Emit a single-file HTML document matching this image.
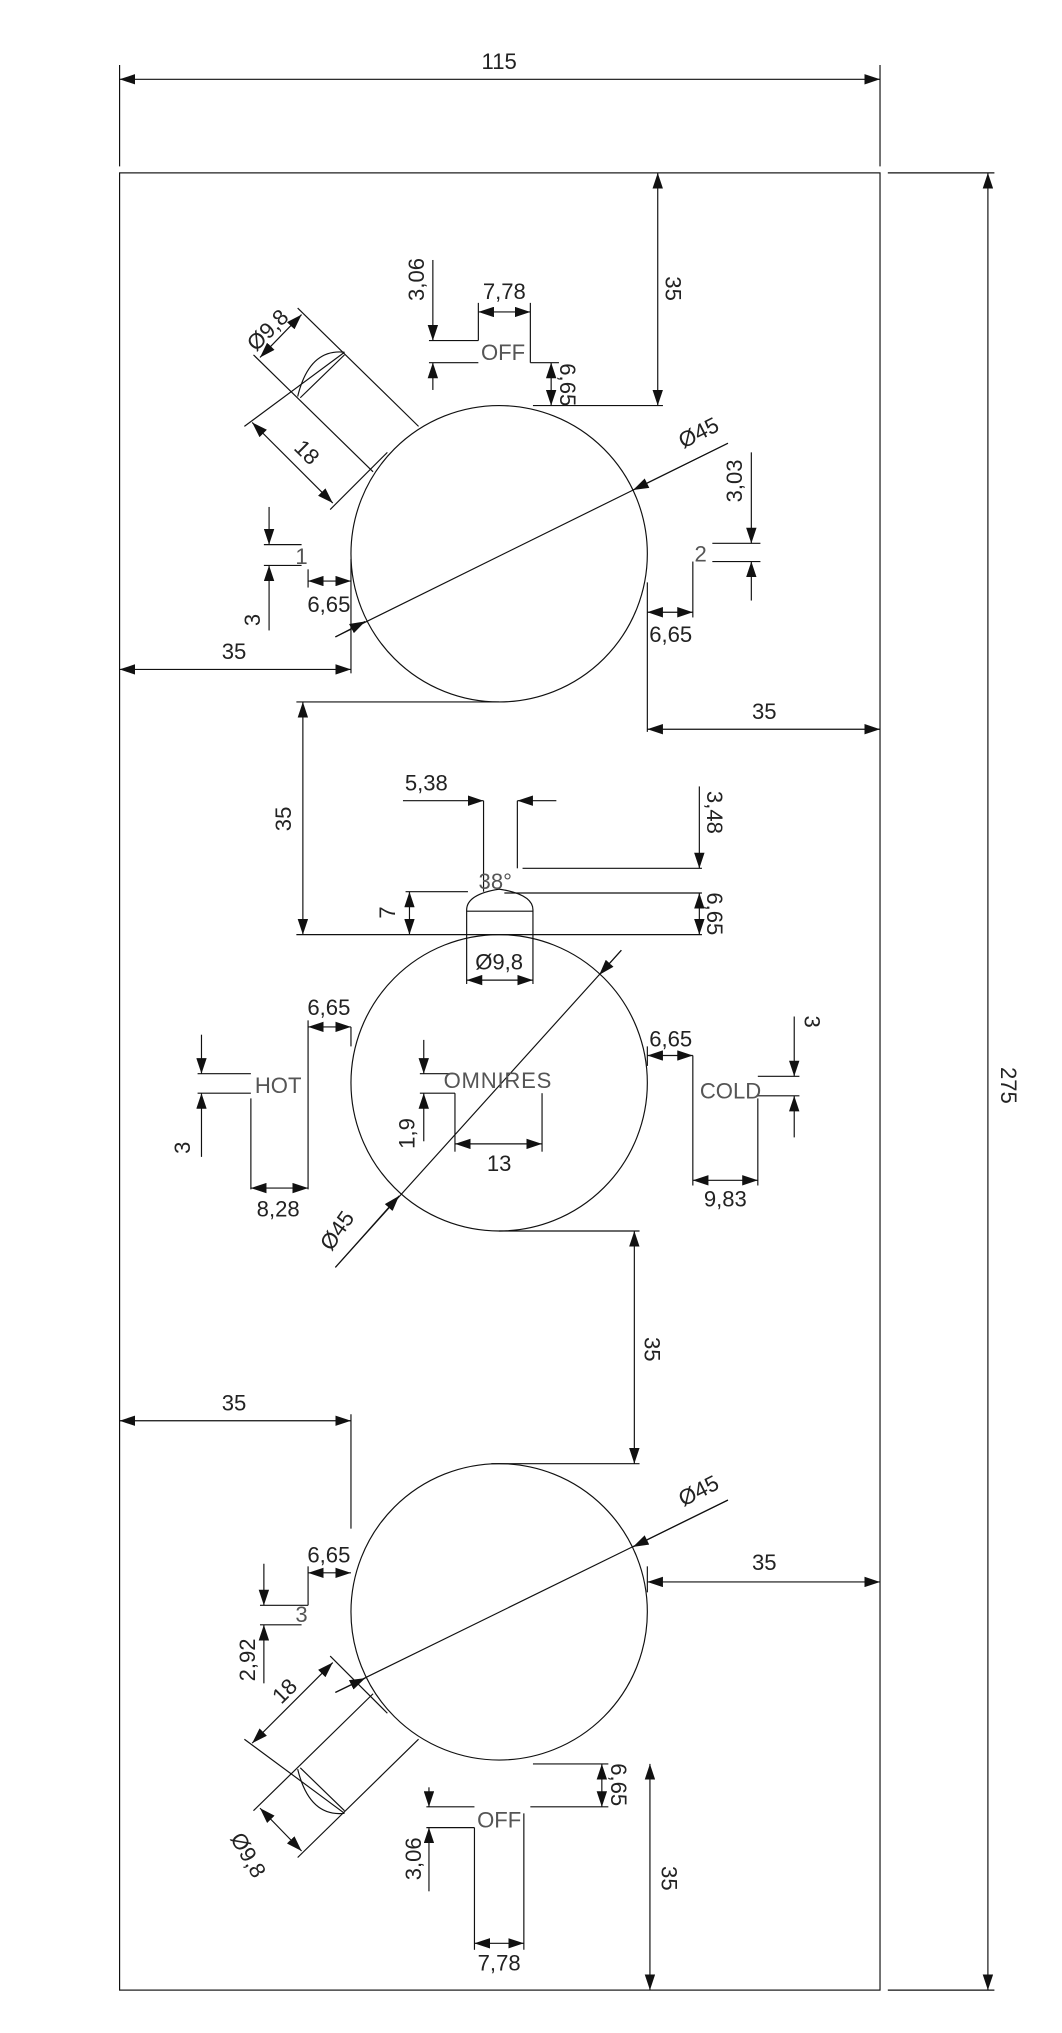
<!DOCTYPE html>
<html><head><meta charset="utf-8"><style>
html,body{margin:0;padding:0;background:#fff;}
svg{display:block}
text{font-family:"Liberation Sans",sans-serif;font-size:17px;fill:#222;}
.g{fill:#555}
.l{stroke:#111;stroke-width:0.9;fill:none}
.d{marker-start:url(#a);marker-end:url(#a)}
.e{marker-end:url(#a)}
</style></head><body>
<svg width="1062" height="2033" viewBox="0 0 817 1564" xmlns="http://www.w3.org/2000/svg">
<defs><marker id="a" viewBox="0 0 12 8" refX="12" refY="4" markerWidth="12" markerHeight="8" markerUnits="userSpaceOnUse" orient="auto-start-reverse"><path d="M0,0 L12,4 L0,8z" fill="#111"/></marker></defs>
<g class="l">
<rect x="92" y="133" width="585" height="1398"/>
<line x1="92" y1="50" x2="92" y2="128"/><line x1="677" y1="50" x2="677" y2="128"/>
<line class="d" x1="92" y1="61" x2="677" y2="61"/>
<line x1="683" y1="133" x2="765" y2="133"/><line x1="683" y1="1531" x2="765" y2="1531"/>
<line class="d" x1="760" y1="133" x2="760" y2="1531"/>
<circle cx="384" cy="426" r="114"/>
<circle cx="384" cy="833" r="114"/>
<circle cx="384" cy="1240" r="114"/>

<line class="d" x1="506" y1="133" x2="506" y2="312"/>
<line x1="410" y1="312" x2="510" y2="312"/>
<line class="e" x1="333" y1="200" x2="333" y2="262"/><line class="e" x1="333" y1="300" x2="333" y2="279"/>
<line x1="330" y1="262" x2="368" y2="262"/><line x1="330" y1="279" x2="368" y2="279"/>
<line x1="368" y1="233" x2="368" y2="262"/><line x1="408" y1="233" x2="408" y2="279"/>
<line class="d" x1="368" y1="240" x2="408" y2="240"/>
<line x1="408" y1="279" x2="430" y2="279"/>
<line class="d" x1="424" y1="279" x2="424" y2="312"/>
<line x1="258" y1="490" x2="560" y2="341"/>
<line class="e" x1="560" y1="341" x2="487" y2="377"/>
<line class="e" x1="258" y1="490" x2="281" y2="478"/>
<line x1="229" y1="237" x2="322" y2="328"/>
<line x1="195" y1="273" x2="287" y2="363"/>
<line x1="188" y1="328" x2="265" y2="271"/>
<line x1="231" y1="306" x2="265" y2="273"/>
<path d="M265,271 Q238,268 229,305"/>
<line x1="254" y1="392" x2="298" y2="348"/>
<line class="d" x1="194" y1="325" x2="256" y2="387"/>
<line class="d" x1="232" y1="242" x2="200" y2="275"/>
<line class="e" x1="207" y1="390" x2="207" y2="419"/><line class="e" x1="207" y1="485" x2="207" y2="435"/>
<line x1="203" y1="419" x2="232" y2="419"/><line x1="203" y1="435" x2="232" y2="435"/>
<line x1="237" y1="438" x2="237" y2="452"/>
<line class="d" x1="237" y1="447" x2="270" y2="447"/>
<line x1="270" y1="430" x2="270" y2="518"/>
<line class="d" x1="92" y1="515" x2="270" y2="515"/>
<line class="e" x1="578" y1="348" x2="578" y2="418"/><line class="e" x1="578" y1="462" x2="578" y2="432"/>
<line x1="548" y1="418" x2="585" y2="418"/><line x1="548" y1="432" x2="585" y2="432"/>
<line x1="533" y1="432" x2="533" y2="475"/>
<line x1="498" y1="448" x2="498" y2="563"/>
<line class="d" x1="498" y1="471" x2="533" y2="471"/>
<line class="d" x1="498" y1="561" x2="677" y2="561"/>

<line x1="228" y1="540" x2="384" y2="540"/>
<line class="d" x1="233" y1="540" x2="233" y2="719"/>
<line x1="228" y1="719" x2="540" y2="719"/>
<line class="e" x1="310" y1="616" x2="372" y2="616"/><line class="e" x1="428" y1="616" x2="398" y2="616"/>
<line x1="372" y1="616" x2="372" y2="686"/><line x1="398" y1="616" x2="398" y2="668"/>
<line x1="402" y1="668" x2="540" y2="668"/>
<line class="e" x1="538" y1="605" x2="538" y2="668"/>
<line x1="312" y1="686" x2="360" y2="686"/><line x1="388" y1="687" x2="540" y2="687"/>
<line class="d" x1="315" y1="686" x2="315" y2="719"/>
<line class="d" x1="538" y1="687" x2="538" y2="719"/>
<path d="M359,757 L359,700 Q359,688 384,684 Q410,688 410,700 L410,757"/>
<line x1="359" y1="701" x2="410" y2="701"/>
<line class="d" x1="359" y1="754" x2="410" y2="754"/>
<line x1="258" y1="975" x2="478" y2="731"/>
<line class="e" x1="478" y1="731" x2="461" y2="750"/>
<line class="e" x1="258" y1="975" x2="307" y2="920"/>
<line x1="237" y1="785" x2="237" y2="915"/><line x1="270" y1="790" x2="270" y2="805"/>
<line class="d" x1="237" y1="790" x2="270" y2="790"/>
<line class="e" x1="155" y1="796" x2="155" y2="826"/><line class="e" x1="155" y1="890" x2="155" y2="841"/>
<line x1="152" y1="826" x2="193" y2="826"/><line x1="152" y1="841" x2="193" y2="841"/>
<line x1="193" y1="845" x2="193" y2="915"/>
<line class="d" x1="193" y1="914" x2="237" y2="914"/>
<line class="e" x1="326" y1="800" x2="326" y2="826"/><line class="e" x1="326" y1="878" x2="326" y2="841"/>
<line x1="323" y1="826" x2="350" y2="826"/><line x1="323" y1="841" x2="350" y2="841"/>
<line x1="350" y1="841" x2="350" y2="886"/><line x1="417" y1="841" x2="417" y2="886"/>
<line class="d" x1="350" y1="880" x2="417" y2="880"/>
<line x1="498" y1="805" x2="498" y2="820"/>
<line class="d" x1="498" y1="812" x2="533" y2="812"/>
<line x1="533" y1="812" x2="533" y2="912"/>
<line x1="583" y1="845" x2="583" y2="912"/>
<line class="d" x1="533" y1="908" x2="583" y2="908"/>
<line class="e" x1="611" y1="782" x2="611" y2="828"/><line class="e" x1="611" y1="875" x2="611" y2="843"/>
<line x1="583" y1="828" x2="615" y2="828"/><line x1="583" y1="843" x2="615" y2="843"/>

<line x1="384" y1="947" x2="492" y2="947"/>
<line class="d" x1="488" y1="947" x2="488" y2="1126"/>
<line x1="378" y1="1126" x2="492" y2="1126"/>

<line class="d" x1="92" y1="1093" x2="270" y2="1093"/>
<line x1="270" y1="1088" x2="270" y2="1176"/>
<line x1="237" y1="1205" x2="237" y2="1235"/>
<line class="d" x1="237" y1="1210" x2="270" y2="1210"/>
<line class="e" x1="203" y1="1203" x2="203" y2="1235"/><line class="e" x1="203" y1="1295" x2="203" y2="1250"/>
<line x1="200" y1="1235" x2="237" y2="1235"/><line x1="200" y1="1250" x2="232" y2="1250"/>
<line x1="258" y1="1302" x2="560" y2="1154"/>
<line class="e" x1="560" y1="1154" x2="487" y2="1190"/>
<line class="e" x1="258" y1="1302" x2="281" y2="1291"/>
<line x1="498" y1="1205" x2="498" y2="1225"/>
<line class="d" x1="498" y1="1217" x2="677" y2="1217"/>
<g transform="translate(0,1666) scale(1,-1)">
<line x1="229" y1="237" x2="322" y2="328"/>
<line x1="195" y1="273" x2="287" y2="363"/>
<line x1="188" y1="328" x2="265" y2="271"/>
<line x1="231" y1="306" x2="265" y2="273"/>
<path d="M265,271 Q238,268 229,305"/>
<line x1="254" y1="392" x2="298" y2="348"/>
<line class="d" x1="194" y1="325" x2="256" y2="387"/>
<line class="d" x1="232" y1="242" x2="200" y2="275"/>
</g>
<line x1="410" y1="1357" x2="468" y2="1357"/><line x1="408" y1="1390" x2="468" y2="1390"/>
<line class="d" x1="463" y1="1357" x2="463" y2="1390"/>
<line class="e" x1="330" y1="1375" x2="330" y2="1390"/><line class="e" x1="330" y1="1455" x2="330" y2="1406"/>
<line x1="328" y1="1390" x2="365" y2="1390"/><line x1="328" y1="1406" x2="365" y2="1406"/>
<line x1="365" y1="1406" x2="365" y2="1500"/><line x1="403" y1="1395" x2="403" y2="1500"/>
<line class="d" x1="365" y1="1495" x2="403" y2="1495"/>
<line class="d" x1="500" y1="1357" x2="500" y2="1531"/>
</g>

<g text-anchor="middle">
<text x="384" y="53">115</text>
<text transform="translate(770,835) rotate(90)">275</text>
<text transform="translate(512,222) rotate(90)">35</text>
<text x="388" y="230">7,78</text>
<text class="g" x="387" y="277" font-size="19">OFF</text>
<text transform="translate(326,215) rotate(-90)">3,06</text>
<text transform="translate(431,296) rotate(90)">6,65</text>
<text transform="translate(540,338) rotate(-27)">Ø45</text>
<text transform="translate(210,258) rotate(-45)">Ø9,8</text>
<text transform="translate(232,352) rotate(45)">18</text>
<text class="g" x="232" y="434" font-size="19">1</text>
<text transform="translate(200,477) rotate(-90)">3</text>
<text x="253" y="471">6,65</text>
<text x="180" y="507">35</text>
<text class="g" x="539" y="432" font-size="19">2</text>
<text transform="translate(571,370) rotate(-90)">3,03</text>
<text x="516" y="494">6,65</text>
<text x="588" y="553">35</text>

<text transform="translate(224,630) rotate(-90)">35</text>
<text x="328" y="608">5,38</text>
<text transform="translate(544,625) rotate(90)">3,48</text>
<text class="g" x="381" y="684" font-size="18">38°</text>
<text transform="translate(304,702) rotate(-90)">7</text>
<text transform="translate(544,703) rotate(90)">6,65</text>
<text x="384" y="746">Ø9,8</text>
<text transform="translate(264,950) rotate(-55)">Ø45</text>
<text x="253" y="781">6,65</text>
<text class="g" x="214" y="841" font-size="19">HOT</text>
<text transform="translate(146,883) rotate(-90)">3</text>
<text x="214" y="936">8,28</text>
<text class="g" x="383" y="837" font-size="9" letter-spacing="0.6">OMNIRES</text>
<text transform="translate(319,872) rotate(-90)">1,9</text>
<text x="384" y="901">13</text>
<text class="g" x="562" y="845" font-size="19">COLD</text>
<text x="516" y="805">6,65</text>
<text x="558" y="928">9,83</text>
<text transform="translate(619,786) rotate(90)">3</text>

<text transform="translate(496,1038) rotate(90)">35</text>
<text x="180" y="1085">35</text>
<text x="253" y="1202">6,65</text>
<text class="g" x="232" y="1248" font-size="19">3</text>
<text transform="translate(196,1277) rotate(-90)">2,92</text>
<text transform="translate(540,1152) rotate(-27)">Ø45</text>
<text transform="translate(223,1305) rotate(-45)">18</text>
<text transform="translate(186,1430) rotate(60)">Ø9,8</text>
<text x="588" y="1208">35</text>
<text class="g" x="384" y="1406" font-size="19">OFF</text>
<text transform="translate(470,1373) rotate(90)">6,65</text>
<text transform="translate(324,1430) rotate(-90)">3,06</text>
<text x="384" y="1516">7,78</text>
<text transform="translate(509,1445) rotate(90)">35</text>
</g>
</svg>
</body></html>
